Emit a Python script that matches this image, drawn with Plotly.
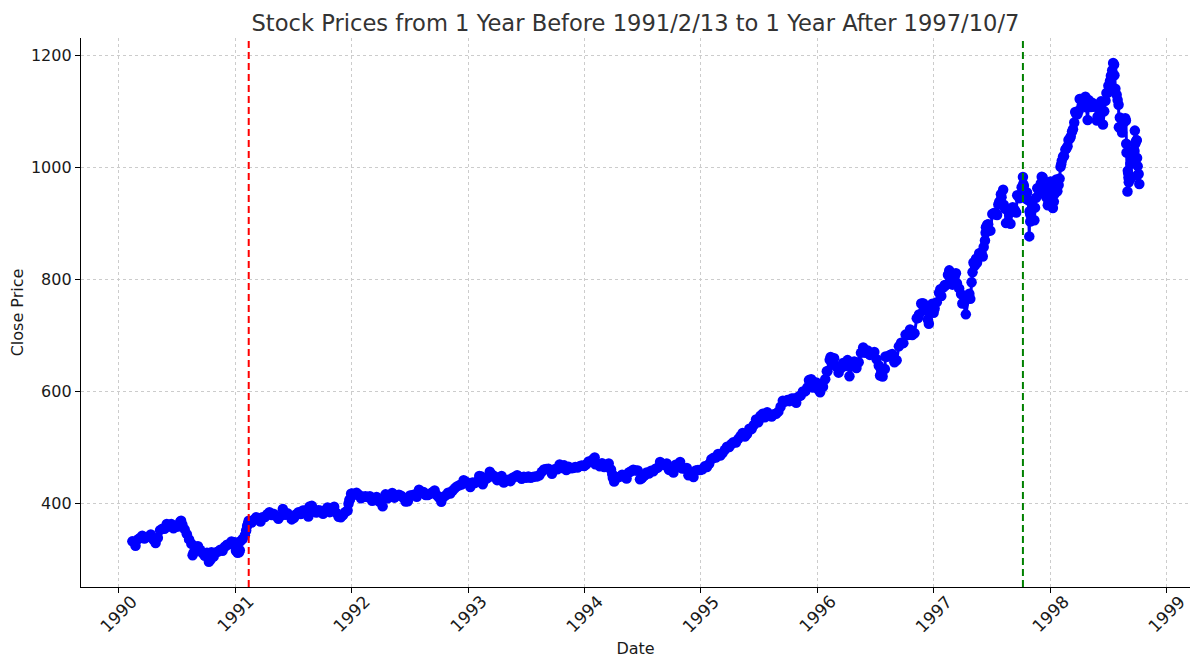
import plotly.graph_objects as go

dates = [
    "1990-02-13", "1990-02-23", "1990-03-02", "1990-03-09", "1990-03-16", "1990-03-23", "1990-03-30",
    "1990-04-06", "1990-04-12", "1990-04-20", "1990-04-27", "1990-05-04", "1990-05-11", "1990-05-18",
    "1990-05-25", "1990-06-01", "1990-06-08", "1990-06-15", "1990-06-22", "1990-06-29", "1990-07-06",
    "1990-07-13", "1990-07-20", "1990-07-27", "1990-08-03", "1990-08-10", "1990-08-17", "1990-08-24",
    "1990-08-31", "1990-09-07", "1990-09-14", "1990-09-21", "1990-09-28", "1990-10-05", "1990-10-11",
    "1990-10-19", "1990-10-26", "1990-11-02", "1990-11-09", "1990-11-16", "1990-11-23", "1990-11-30",
    "1990-12-07", "1990-12-14", "1990-12-21", "1990-12-31",
    "1991-01-04", "1991-01-09", "1991-01-16", "1991-01-18", "1991-01-25", "1991-02-01", "1991-02-08",
    "1991-02-13", "1991-02-22", "1991-03-01", "1991-03-08", "1991-03-15", "1991-03-22", "1991-03-28",
    "1991-04-05", "1991-04-12", "1991-04-19", "1991-04-26", "1991-05-03", "1991-05-10", "1991-05-17",
    "1991-05-24", "1991-05-31", "1991-06-07", "1991-06-14", "1991-06-21", "1991-06-28", "1991-07-05",
    "1991-07-12", "1991-07-19", "1991-07-26", "1991-08-02", "1991-08-09", "1991-08-16", "1991-08-19",
    "1991-08-23", "1991-08-30", "1991-09-06", "1991-09-13", "1991-09-20", "1991-09-27", "1991-10-04",
    "1991-10-11", "1991-10-18", "1991-10-25", "1991-11-01", "1991-11-08", "1991-11-15", "1991-11-22",
    "1991-11-29", "1991-12-06", "1991-12-13", "1991-12-20", "1991-12-27", "1991-12-31",
    "1992-01-10", "1992-01-17", "1992-01-24", "1992-01-31", "1992-02-07", "1992-02-14", "1992-02-21",
    "1992-02-28", "1992-03-06", "1992-03-13", "1992-03-20", "1992-03-27", "1992-04-03", "1992-04-08",
    "1992-04-17", "1992-04-24", "1992-05-01", "1992-05-08", "1992-05-15", "1992-05-22", "1992-05-29",
    "1992-06-05", "1992-06-12", "1992-06-19", "1992-06-26", "1992-07-03", "1992-07-10", "1992-07-17",
    "1992-07-24", "1992-07-31", "1992-08-07", "1992-08-14", "1992-08-21", "1992-08-28", "1992-09-04",
    "1992-09-11", "1992-09-18", "1992-09-25", "1992-10-02", "1992-10-09", "1992-10-16", "1992-10-23",
    "1992-10-30", "1992-11-06", "1992-11-13", "1992-11-20", "1992-11-27", "1992-12-04", "1992-12-11",
    "1992-12-18", "1992-12-24", "1992-12-31",
    "1993-01-08", "1993-01-15", "1993-01-22", "1993-01-29", "1993-02-05", "1993-02-12", "1993-02-16",
    "1993-02-26", "1993-03-05", "1993-03-10", "1993-03-19", "1993-03-26", "1993-04-02", "1993-04-09",
    "1993-04-16", "1993-04-23", "1993-04-30", "1993-05-07", "1993-05-14", "1993-05-21", "1993-05-28",
    "1993-06-04", "1993-06-11", "1993-06-18", "1993-06-25", "1993-07-02", "1993-07-09", "1993-07-16",
    "1993-07-23", "1993-07-30", "1993-08-06", "1993-08-13", "1993-08-20", "1993-08-27", "1993-09-03",
    "1993-09-10", "1993-09-17", "1993-09-21", "1993-10-01", "1993-10-08", "1993-10-15", "1993-10-22",
    "1993-10-29", "1993-11-05", "1993-11-12", "1993-11-19", "1993-11-26", "1993-12-03", "1993-12-10",
    "1993-12-17", "1993-12-23", "1993-12-31",
    "1994-01-07", "1994-01-14", "1994-01-21", "1994-01-28", "1994-02-02", "1994-02-04", "1994-02-11",
    "1994-02-18", "1994-02-25", "1994-03-04", "1994-03-11", "1994-03-18", "1994-03-25", "1994-03-31",
    "1994-04-04", "1994-04-08", "1994-04-15", "1994-04-22", "1994-04-29", "1994-05-06", "1994-05-13",
    "1994-05-20", "1994-05-27", "1994-06-03", "1994-06-10", "1994-06-17", "1994-06-24", "1994-07-01",
    "1994-07-08", "1994-07-15", "1994-07-22", "1994-07-29", "1994-08-05", "1994-08-12", "1994-08-19",
    "1994-08-26", "1994-09-02", "1994-09-09", "1994-09-16", "1994-09-23", "1994-09-30", "1994-10-07",
    "1994-10-14", "1994-10-21", "1994-10-28", "1994-11-04", "1994-11-11", "1994-11-18", "1994-11-23",
    "1994-12-02", "1994-12-09", "1994-12-16", "1994-12-23", "1994-12-30",
    "1995-01-06", "1995-01-13", "1995-01-20", "1995-01-27", "1995-02-03", "1995-02-10", "1995-02-17",
    "1995-02-24", "1995-03-03", "1995-03-10", "1995-03-17", "1995-03-24", "1995-03-31", "1995-04-07",
    "1995-04-13", "1995-04-21", "1995-04-28", "1995-05-05", "1995-05-12", "1995-05-19", "1995-05-26",
    "1995-06-02", "1995-06-09", "1995-06-16", "1995-06-23", "1995-06-30", "1995-07-07", "1995-07-14",
    "1995-07-21", "1995-07-28", "1995-08-04", "1995-08-11", "1995-08-18", "1995-08-25", "1995-09-01",
    "1995-09-08", "1995-09-15", "1995-09-22", "1995-09-29", "1995-10-06", "1995-10-13", "1995-10-20",
    "1995-10-27", "1995-11-03", "1995-11-10", "1995-11-17", "1995-11-24", "1995-12-01", "1995-12-08",
    "1995-12-13", "1995-12-18", "1995-12-22", "1995-12-29",
    "1996-01-05", "1996-01-10", "1996-01-19", "1996-01-26", "1996-02-02", "1996-02-09", "1996-02-12",
    "1996-02-16", "1996-02-23", "1996-03-01", "1996-03-08", "1996-03-15", "1996-03-22", "1996-03-29",
    "1996-04-05", "1996-04-11", "1996-04-19", "1996-04-26", "1996-05-03", "1996-05-10", "1996-05-17",
    "1996-05-24", "1996-05-31", "1996-06-07", "1996-06-14", "1996-06-21", "1996-06-28", "1996-07-05",
    "1996-07-12", "1996-07-16", "1996-07-24", "1996-07-31", "1996-08-02", "1996-08-09", "1996-08-16",
    "1996-08-23", "1996-08-30", "1996-09-06", "1996-09-13", "1996-09-20", "1996-09-27", "1996-10-04",
    "1996-10-11", "1996-10-18", "1996-10-25", "1996-11-01", "1996-11-08", "1996-11-15", "1996-11-22",
    "1996-11-29", "1996-12-05", "1996-12-13", "1996-12-16", "1996-12-20", "1996-12-27", "1996-12-31",
    "1997-01-03", "1997-01-10", "1997-01-17", "1997-01-24", "1997-01-31", "1997-02-07", "1997-02-14",
    "1997-02-21", "1997-02-28", "1997-03-07", "1997-03-14", "1997-03-21", "1997-03-27", "1997-04-04",
    "1997-04-11", "1997-04-18", "1997-04-25", "1997-05-02", "1997-05-09", "1997-05-16", "1997-05-23",
    "1997-05-30", "1997-06-06", "1997-06-13", "1997-06-20", "1997-06-27", "1997-07-03", "1997-07-11",
    "1997-07-18", "1997-07-25", "1997-08-01", "1997-08-08", "1997-08-15", "1997-08-22", "1997-08-29",
    "1997-09-05", "1997-09-12", "1997-09-19", "1997-09-26", "1997-10-03", "1997-10-07", "1997-10-10",
    "1997-10-17", "1997-10-24", "1997-10-27", "1997-10-28", "1997-10-31", "1997-11-07", "1997-11-14",
    "1997-11-21", "1997-11-28", "1997-12-05", "1997-12-12", "1997-12-19", "1997-12-26", "1997-12-31",
    "1998-01-02", "1998-01-09", "1998-01-16", "1998-01-23", "1998-01-30", "1998-02-06", "1998-02-13",
    "1998-02-20", "1998-02-27", "1998-03-06", "1998-03-13", "1998-03-20", "1998-03-27", "1998-04-03",
    "1998-04-09", "1998-04-17", "1998-04-24", "1998-05-01", "1998-05-08", "1998-05-15", "1998-05-22",
    "1998-05-29", "1998-06-05", "1998-06-12", "1998-06-19", "1998-06-26", "1998-07-02", "1998-07-10",
    "1998-07-17", "1998-07-24", "1998-07-31", "1998-08-04", "1998-08-07", "1998-08-14", "1998-08-21",
    "1998-08-27", "1998-08-28", "1998-08-31", "1998-09-01", "1998-09-04", "1998-09-08", "1998-09-10",
    "1998-09-11", "1998-09-18", "1998-09-23", "1998-09-25", "1998-09-30", "1998-10-01", "1998-10-02",
    "1998-10-05", "1998-10-07",
]

close = [
    332.0, 324.2, 335.5, 337.9, 341.9, 337.2, 339.9,
    340.1, 344.3, 335.1, 329.1, 338.4, 352.0, 354.6,
    354.6, 363.2, 358.7, 362.9, 355.4, 358.0, 358.4,
    367.3, 361.6, 353.4, 344.9, 335.5, 327.8, 311.5,
    322.6, 323.4, 316.8, 311.3, 306.1, 311.5, 295.5,
    312.5, 304.7, 311.9, 313.7, 317.1, 315.1, 322.2,
    326.0, 326.8, 331.8, 330.2,
    315.2, 311.5, 316.2, 332.2, 336.1, 343.1, 359.4,
    369.0, 365.7, 370.5, 374.9, 373.5, 367.5, 375.2,
    375.4, 380.4, 384.2, 379.0, 380.8, 377.0, 372.4,
    377.5, 389.8, 379.4, 382.3, 378.6, 371.2, 374.1,
    380.3, 384.2, 380.9, 387.1, 387.1, 385.6, 376.5,
    394.2, 395.4, 389.1, 383.6, 387.6, 386.5, 381.3,
    387.1, 392.5, 384.2, 391.3, 393.7, 382.6, 376.1,
    375.2, 379.1, 384.5, 387.0, 406.5, 417.1,
    415.1, 418.9, 415.4, 408.8, 411.7, 412.5, 411.4,
    412.7, 404.4, 405.8, 411.3, 403.5, 401.6, 394.5,
    416.0, 409.0, 412.5, 418.5, 410.1, 414.0, 415.4,
    413.5, 409.8, 403.1, 403.5, 413.8, 414.6, 415.6,
    411.6, 424.2, 419.4, 420.1, 414.9, 414.8, 417.1,
    419.6, 422.9, 414.4, 410.5, 402.7, 411.7, 414.1,
    418.7, 417.6, 422.4, 426.7, 430.2, 432.1, 433.7,
    441.3, 439.0, 435.7,
    429.1, 437.2, 436.1, 438.8, 448.9, 447.7, 433.9,
    443.4, 446.1, 456.3, 450.2, 447.8, 441.4, 441.8,
    448.9, 437.0, 440.2, 442.3, 439.6, 445.8, 447.6,
    450.1, 447.3, 443.7, 447.6, 445.8, 448.1, 445.8,
    447.1, 448.1, 448.1, 450.1, 456.2, 460.5, 461.3,
    461.7, 458.8, 452.9, 461.3, 460.7, 469.5, 463.3,
    467.8, 459.6, 465.4, 462.6, 463.1, 464.9, 463.9,
    466.4, 467.4, 466.5,
    469.9, 474.9, 474.7, 478.7, 482.0, 469.8, 470.2,
    466.1, 471.6, 464.7, 466.4, 471.1, 460.6, 445.8,
    438.9, 447.1, 446.2, 447.6, 450.9, 447.8, 444.1,
    454.9, 457.3, 460.1, 458.7, 458.5, 442.8, 446.2,
    449.6, 455.2, 453.1, 458.3, 457.1, 461.9, 463.7,
    473.8, 470.9, 468.2, 471.2, 459.7, 462.7, 455.1,
    469.1, 464.9, 473.8, 462.3, 462.4, 463.0, 450.1,
    453.3, 447.0, 458.8, 459.7, 459.3,
    460.7, 466.0, 464.8, 470.4, 478.6, 481.5, 482.0,
    488.1, 485.4, 489.6, 495.5, 501.0, 500.7, 506.1,
    509.2, 508.5, 514.7, 520.1, 525.6, 519.2, 523.7,
    533.4, 532.5, 539.8, 549.7, 544.8, 556.4, 559.9,
    553.6, 562.9, 558.9, 555.1, 559.2, 560.1, 563.8,
    572.7, 583.4, 581.7, 584.4, 582.6, 587.5, 587.5,
    579.7, 590.6, 592.7, 600.0, 600.0, 607.0, 617.7,
    621.7, 606.8, 612.0, 615.9,
    602.7, 598.5, 608.2, 621.6, 635.8, 656.4, 661.5,
    648.0, 659.1, 644.4, 633.5, 641.4, 650.6, 645.5,
    655.9, 627.0, 645.1, 653.5, 641.6, 652.1, 668.9,
    678.5, 669.1, 673.3, 665.2, 666.8, 670.6, 657.4,
    646.2, 628.4, 626.7, 639.9, 662.5, 662.1, 665.2,
    667.0, 652.0, 655.7, 680.5, 687.0, 686.2, 701.5,
    700.7, 710.8, 700.9, 703.8, 730.8, 737.6, 757.0,
    757.0, 744.4, 728.6, 721.0, 748.9, 756.8, 740.7,
    748.0, 759.5, 776.2, 770.5, 786.2, 789.6, 808.5,
    801.8, 790.8, 805.0, 793.2, 784.1, 773.9, 757.9,
    737.7, 766.3, 765.4, 813.0, 824.8, 829.8, 847.0,
    848.3, 858.0, 893.3, 898.7, 887.3, 916.9, 916.7,
    915.3, 938.8, 947.1, 933.5, 900.8, 923.5, 899.5,
    929.1, 923.9, 950.5, 945.2, 965.0, 983.1, 967.0,
    944.2, 941.6, 877.0, 921.9, 914.6, 927.5, 928.4,
    963.1, 955.4, 983.8, 953.4, 946.8, 936.5, 970.4,
    975.0, 927.7, 961.5, 957.6, 980.3, 1012.5, 1020.1,
    1034.2, 1049.3, 1055.7, 1068.6, 1099.2, 1095.4, 1122.7,
    1110.7, 1122.7, 1107.9, 1121.0, 1108.1, 1108.7, 1110.5,
    1090.8, 1113.9, 1098.8, 1100.7, 1133.2, 1146.4, 1164.3,
    1186.8, 1140.8, 1120.7, 1072.1, 1089.5, 1062.8, 1081.2,
    1042.6, 1027.1, 957.3, 994.3, 973.9, 1023.5, 980.2,
    1009.1, 1020.1, 1066.1, 1044.8, 1017.0, 986.4, 1002.6,
    988.6, 970.7,
]

# extra in-between days where the price moves fast
extra_dates = [
    "1990-07-16", "1990-08-21", "1990-10-16", "1991-01-14", "1991-02-05", "1991-02-11",
    "1991-12-23", "1991-12-26", "1992-01-03", "1993-03-16", "1994-03-29", "1994-06-28",
    "1995-12-06", "1996-01-31", "1996-07-19", "1996-11-12", "1996-11-26",
    "1997-01-21", "1997-02-04", "1997-02-18", "1997-03-11", "1997-03-31", "1997-04-22",
    "1997-04-29", "1997-05-05", "1997-05-13", "1997-05-27", "1997-06-03", "1997-06-10",
    "1997-06-12", "1997-06-17", "1997-07-08", "1997-07-14", "1997-07-22", "1997-07-30",
    "1997-08-06", "1997-08-12", "1997-09-16", "1997-10-08", "1997-10-20", "1997-10-29",
    "1997-10-30", "1997-11-03", "1997-11-12", "1997-11-17", "1997-12-02", "1997-12-08",
    "1997-12-15", "1997-12-22", "1997-12-24",
    "1998-01-12", "1998-01-13", "1998-01-20", "1998-01-27", "1998-02-02", "1998-02-04",
    "1998-02-10", "1998-02-17", "1998-02-24", "1998-03-03", "1998-03-10", "1998-03-17",
    "1998-03-23", "1998-03-31", "1998-04-06", "1998-04-14", "1998-04-21", "1998-04-28",
    "1998-05-12", "1998-05-27", "1998-06-09", "1998-06-15", "1998-06-23", "1998-06-30",
    "1998-07-07", "1998-07-14", "1998-07-20", "1998-07-21", "1998-07-28", "1998-08-03",
    "1998-08-11", "1998-08-24", "1998-08-26", "1998-09-02", "1998-09-03", "1998-09-09",
    "1998-09-14", "1998-09-17", "1998-09-21", "1998-09-22", "1998-09-24", "1998-09-28",
    "1998-09-29",
]
extra_close = [
    368.9, 307.1, 298.9, 312.5, 351.3, 364.2,
    399.3, 406.5, 417.3, 451.4, 452.5, 444.3,
    620.2, 636.0, 638.7, 731.1, 757.0,
    782.7, 790.1, 816.3, 811.3, 757.1, 774.6,
    795.0, 830.3, 837.0, 845.0, 841.0, 869.6,
    883.5, 897.8, 918.8, 918.4, 934.0, 952.3,
    960.3, 926.5, 919.8, 970.6, 955.6, 919.2,
    903.7, 939.0, 906.0, 946.2, 971.7, 982.4,
    963.4, 953.7, 932.7,
    939.2, 952.1, 978.6, 969.0, 1001.3, 1006.0,
    1020.1, 1032.1, 1038.1, 1052.0, 1064.3, 1080.5,
    1095.6, 1101.8, 1122.7, 1115.8, 1126.7, 1085.1,
    1115.8, 1084.0, 1118.4, 1077.0, 1119.5, 1133.8,
    1154.7, 1174.1, 1184.1, 1165.1, 1130.2, 1112.4,
    1069.0, 1088.1, 1084.2, 990.5, 982.3, 1006.2,
    1029.7, 1018.9, 1023.9, 1029.6, 1042.7, 1048.7,
    1049.0,
]

event_dates = ["1991-02-13", "1997-10-07"]
event_colors = ["#ff0000", "#008000"]

year_ticks = ["1990", "1991", "1992", "1993", "1994", "1995", "1996", "1997", "1998", "1999"]
y_ticks = [400, 600, 800, 1000, 1200]

FONT = "DejaVu Sans"
INK = "#1a1a1a"


def composedata():
    pts = sorted(zip(dates + extra_dates, close + extra_close))
    return [p[0] for p in pts], [p[1] for p in pts]


def composeplot():
    xs, ys = composedata()
    fig = go.Figure()

    fig.add_trace(go.Scatter(
        x=xs, y=ys, mode="lines+markers", name="Close Price",
        line=dict(color="#0000ff", width=3),
        marker=dict(color="#0000ff", size=10.5),
        showlegend=False,
    ))

    for d, c in zip(event_dates, event_colors):
        fig.add_shape(type="line", xref="x", yref="paper",
                      x0=d, x1=d, y0=0, y1=1,
                      line=dict(color=c, width=2, dash="7px,4px"))

    # rotated year labels centred on their ticks
    for yr in year_ticks:
        fig.add_annotation(x=yr + "-01-01", y=0, xref="x", yref="paper",
                           text=yr, showarrow=False, textangle=-45,
                           xanchor="center", yanchor="middle", yshift=-27,
                           font=dict(family=FONT, size=17, color=INK))

    # the page body has an 8px margin, so the margins are shifted to compensate
    fig.update_layout(
        width=1200, height=667,
        margin=dict(l=73, r=18, t=30, b=88),
        paper_bgcolor="white", plot_bgcolor="white",
        font=dict(family=FONT, size=16, color=INK),
        title=dict(text="Stock Prices from 1 Year Before 1991/2/13 to 1 Year After 1997/10/7",
                   x=0.5, xref="paper", xanchor="center", y=0.978, yanchor="middle",
                   font=dict(family=FONT, size=22.6, color="#333333")),
        showlegend=False,
    )

    fig.update_xaxes(
        type="date", range=["1989-09-05", "1999-03-15"], automargin=False,
        tickvals=[yr + "-01-01" for yr in year_ticks], showticklabels=False,
        ticks="outside", ticklen=5, tickwidth=1, tickcolor="#000000",
        showline=True, linecolor="#000000", linewidth=1.3, mirror=False,
        showgrid=True, gridcolor="#cccccc", griddash="3px,3px", gridwidth=1,
        zeroline=False,
        title=dict(text="Date", standoff=50, font=dict(family=FONT, size=16, color=INK)),
    )
    fig.update_yaxes(
        range=[250.4, 1231.6], tickvals=y_ticks, automargin=False,
        ticks="outside", ticklen=5, tickwidth=1, tickcolor="#000000",
        showline=True, linecolor="#000000", linewidth=1.3, mirror=False,
        showgrid=True, gridcolor="#cccccc", griddash="3px,3px", gridwidth=1,
        zeroline=False,
        tickfont=dict(family=FONT, size=16, color=INK),
        title=dict(text="Close Price", standoff=10, font=dict(family=FONT, size=16, color=INK)),
    )
    return fig


def main():
    fig = composeplot()
    fig.write_html("out.html")


if __name__ == "__main__":
    main()
